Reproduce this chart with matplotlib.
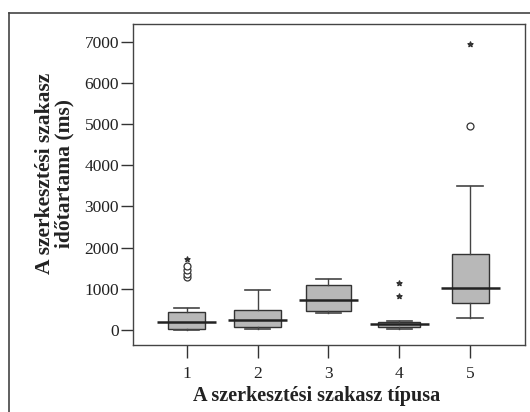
import matplotlib.pyplot as plt
from matplotlib.lines import Line2D

plt.rcParams['font.family'] = ['Liberation Serif', 'DejaVu Serif']

# szakasz típusok és a dobozdiagram statisztikái (ms)
tipusok = [1, 2, 3, 4, 5]
also_bajusz = [0, 30, 420, 20, 290]
q1 = [10, 60, 450, 70, 650]
median = [190, 230, 720, 150, 1010]
q3 = [440, 490, 1100, 200, 1850]
felso_bajusz = [530, 960, 1240, 220, 3500]
# kiugró értékek (kör) és extrém értékek (csillag)
kiugro = [[1280, 1360, 1450, 1560], [], [], [], [4950]]
extrem = [[1720], [], [], [820, 1150], [6950]]

szelesseg = [0.52, 0.66, 0.64, 0.59, 0.52]
yticks = [0, 1000, 2000, 3000, 4000, 5000, 6000, 7000]

fig = plt.figure(figsize=(5.3, 4.12), dpi=100)
ax = fig.add_axes([0.251, 0.163, 0.740, 0.779])

stats = []
for i in range(len(tipusok)):
    stats.append({
        'whislo': also_bajusz[i], 'q1': q1[i], 'med': median[i],
        'q3': q3[i], 'whishi': felso_bajusz[i], 'fliers': kiugro[i],
    })

ax.bxp(stats, positions=tipusok, widths=szelesseg, patch_artist=True,
       boxprops=dict(facecolor='#b8b8b8', edgecolor='#333333', linewidth=1.0),
       whiskerprops=dict(color='#444444', linewidth=1.0),
       capprops=dict(color='#444444', linewidth=1.2),
       capwidths=0.36,
       medianprops=dict(linewidth=0),
       flierprops=dict(marker='o', markerfacecolor='white', markeredgecolor='#333333',
                       markersize=5, markeredgewidth=0.9))

# mediánvonalak a dobozoknál szélesebben
for x, m in zip(tipusok, median):
    ax.hlines(m, x - 0.415, x + 0.415, color='#222222', linewidth=1.8)

for x, vals in zip(tipusok, extrem):
    if vals:
        ax.scatter([x] * len(vals), vals, marker='*', s=14, color='#333333', zorder=3)

ax.set_xlim(0.242, 5.777)
ax.set_ylim(-365, 7438)
ax.set_xticks(tipusok)
ax.set_xticklabels([str(t) for t in tipusok])
ax.set_yticks(yticks)
ax.tick_params(axis='both', direction='out', length=9, width=1.0, colors='#333333',
               labelcolor='#222222', labelsize=12.5)
ax.tick_params(axis='x', pad=6)
ax.tick_params(axis='y', pad=1)
for s in ax.spines.values():
    s.set_color('#444444')
    s.set_linewidth(1.0)

ax.set_ylabel('A szerkesztési szakasz\nidőtartama (ms)', fontsize=15.5, fontweight='bold',
              color='#222222', linespacing=0.95)
ax.yaxis.set_label_coords(-0.15, 0.533)
ax.set_xlabel('A szerkesztési szakasz típusa', fontsize=14.5, fontweight='bold',
              color='#222222', labelpad=3)
ax.xaxis.label.set_x(0.467)

# külső keret
fig.add_artist(Line2D([0.017, 1.0], [0.968, 0.968], color='#444444', linewidth=1.2))
fig.add_artist(Line2D([0.017, 0.017], [0.0, 0.968], color='#444444', linewidth=1.2))

fig.savefig('out.png', dpi=100)
